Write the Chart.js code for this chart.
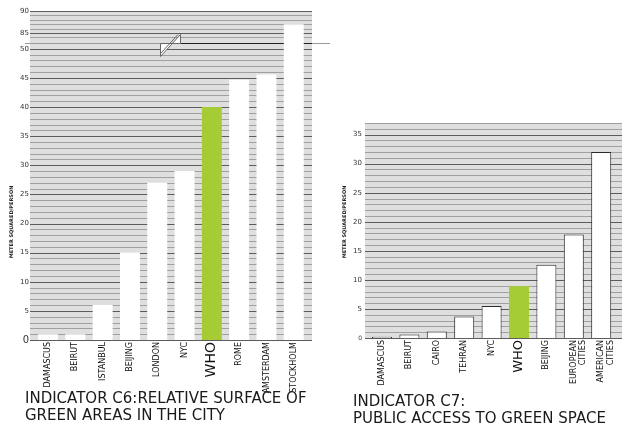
<!DOCTYPE html>
<html>
<head>
<meta charset="utf-8">
<script src="https://cdn.jsdelivr.net/npm/chart.js@4.4.1/dist/chart.umd.min.js"></script>
<style>
  html, body { margin: 0; padding: 0; background: #fff; }
  body { width: 640px; height: 443px; position: relative; overflow: hidden; font-family: "DejaVu Sans", Verdana, sans-serif; }
  canvas { position: absolute; }
  .title { position: absolute; font-size: 15px; line-height: 17px; color: #1a1a1a; white-space: nowrap; }
</style>
</head>
<body>
<canvas id="c6top" width="330" height="60" style="left:0;top:0"></canvas>
<canvas id="c6" width="330" height="400" style="left:0;top:0"></canvas>
<canvas id="c7" width="310" height="400" style="left:330px;top:0"></canvas>
<div class="title" style="left:25px;top:390px">INDICATOR C6:RELATIVE SURFACE OF<br>GREEN AREAS IN THE CITY</div>
<div class="title" style="left:353px;top:393px">INDICATOR C7:<br>PUBLIC ACCESS TO GREEN SPACE</div>
<script>
// C6: relative surface of green areas (m2 / person)
const c6Cities = ['DAMASCUS', 'BEIRUT', 'ISTANBUL', 'BEIJING', 'LONDON', 'NYC', 'WHO', 'ROME', 'AMSTERDAM', 'STOCKHOLM'];
const c6Values = [1, 1, 6, 15, 27, 29, 40, 44.7, 45.6, 87];

// C7: public access to green space (m2 / person)
const c7Cities = ['DAMASCUS', 'BEIRUT', 'CAIRO', 'TEHRAN', 'NYC', 'WHO', 'BEIJING', ['EUROPEAN', 'CITIES'], ['AMERICAN', 'CITIES']];
const c7Values = [0.2, 0.6, 1.1, 3.7, 5.5, 9, 12.6, 17.8, 32];

const labelEvery = 5;
const yTitle = 'METER SQUARED/PERSON';

const FONT = '"DejaVu Sans", Verdana, sans-serif';
const green = '#a5cc34';
Chart.defaults.font.family = FONT;

// grey striped background, a little wider than the chart area
function stripes(padL, padR) {
    return {
        id: 'stripes',
        beforeDraw(chart) {
            const ctx = chart.ctx, area = chart.chartArea, y = chart.scales.y;
            const x0 = area.left - padL, x1 = area.right + padR;
            ctx.save();
            ctx.fillStyle = '#dfdfdf';
            ctx.fillRect(x0, y.top, x1 - x0, y.bottom - y.top);
            ctx.lineWidth = 1;
            y.ticks.forEach(t => {
                const py = Math.round(y.getPixelForValue(t.value)) + 0.5;
                ctx.strokeStyle = t.value % labelEvery === 0 ? '#5c5c5c' : '#a0a0a0';
                ctx.beginPath();
                ctx.moveTo(x0, py);
                ctx.lineTo(x1, py);
                ctx.stroke();
            });
            ctx.restore();
        }
    };
}

function sideTitle(x, y) {
    return {
        id: 'sideTitle',
        afterDraw(chart) {
            const ctx = chart.ctx;
            ctx.save();
            ctx.translate(x, y);
            ctx.rotate(-Math.PI / 2);
            ctx.font = 'bold 5px ' + FONT;
            ctx.fillStyle = '#222';
            ctx.textAlign = 'center';
            ctx.textBaseline = 'middle';
            ctx.fillText(yTitle, 0, 0);
            ctx.restore();
        }
    };
}

// axis break mark between 50 and 85
const breakMark = {
    id: 'breakMark',
    beforeDatasetsDraw(chart) {
        const ctx = chart.ctx;
        const y0 = Math.round(chart.chartArea.top) + 0.5;
        ctx.save();
        ctx.lineWidth = 1;
        ctx.strokeStyle = '#9a9a9a';
        ctx.beginPath(); ctx.moveTo(25, y0); ctx.lineTo(161, y0); ctx.stroke();
        ctx.beginPath(); ctx.moveTo(312, y0); ctx.lineTo(330, y0); ctx.stroke();
        ctx.strokeStyle = '#222';
        ctx.beginPath(); ctx.moveTo(181, y0); ctx.lineTo(312, y0); ctx.stroke();
        ctx.fillStyle = '#fff';
        ctx.strokeStyle = '#666';
        ctx.beginPath();
        ctx.moveTo(160.5, y0);
        ctx.lineTo(160.5, 56.5);
        ctx.lineTo(180.5, 34.5);
        ctx.lineTo(180.5, y0);
        ctx.closePath();
        ctx.fill();
        ctx.stroke();
        ctx.beginPath(); ctx.moveTo(161, 53); ctx.lineTo(178, 34.5); ctx.stroke();
        ctx.restore();
    }
};

function barChart(id, labels, values, o) {
    const data = {
        labels: labels,
        datasets: [{
            data: values,
            backgroundColor: labels.map(l => l === 'WHO' ? green : '#ffffff'),
            borderColor: labels.map(l => l === 'WHO' ? green : '#2a2a2a'),
            borderWidth: o.borderWidth,
            barPercentage: 0.73,
            categoryPercentage: 1
        }]
    };
    const options = {
        responsive: false,
        animation: false,
        layout: { padding: o.padding },
        plugins: { legend: { display: false }, tooltip: { enabled: false } },
        scales: {
            x: {
                display: o.showX,
                grid: { display: false, drawTicks: false },
                border: { display: false },
                ticks: {
                    autoSkip: false,
                    minRotation: 90,
                    maxRotation: 90,
                    padding: 2,
                    color: '#111',
                    font: c => ({ size: c.tick && c.tick.label === 'WHO' ? o.whoSize : 8 })
                },
                afterFit: s => { s.height = o.xHeight; }
            },
            y: {
                min: o.min,
                max: o.max,
                grid: { display: false, drawTicks: false },
                border: { display: false },
                ticks: {
                    stepSize: 1,
                    autoSkip: false,
                    padding: o.yPad,
                    color: '#333',
                    callback: v => v % labelEvery === 0 ? v : '',
                    font: c => ({ size: c.tick && c.tick.value === 0 ? o.zeroSize : 7 })
                },
                afterFit: s => { s.width = o.yWidth; }
            }
        }
    };
    const config = {
        type: 'bar',
        data: data,
        options: options,
        plugins: o.plugins
    };
    const ctx = document.getElementById(id).getContext('2d');
    return new Chart(ctx, config);
}

// upper part of C6 (above the break)
barChart('c6top', c6Cities, c6Values, {
    min: 82.7, max: 90, showX: false, xHeight: 0, yWidth: 34.4, yPad: 5.4,
    padding: { top: 11, bottom: 17, left: 0, right: 22.6 },
    borderWidth: 0, whoSize: 14, zeroSize: 7,
    plugins: [stripes(4.4, 4.6)]
});

// lower part of C6
barChart('c6', c6Cities, c6Values, {
    min: 0, max: 51, showX: true, xHeight: 60, yWidth: 34.4, yPad: 5.4,
    padding: { top: 43, bottom: 0, left: 0, right: 22.6 },
    borderWidth: 0, whoSize: 14, zeroSize: 10,
    plugins: [stripes(4.4, 4.6), breakMark, sideTitle(12, 222)]
});

// C7
barChart('c7', c7Cities, c7Values, {
    min: 0, max: 37, showX: true, xHeight: 62, yWidth: 38.3, yPad: 6.3,
    padding: { top: 123, bottom: 0, left: 0, right: 25.1 },
    borderWidth: 1, whoSize: 13, zeroSize: 6,
    plugins: [stripes(3.3, 7.1), sideTitle(15, 222)]
});
</script>
</body>
</html>
